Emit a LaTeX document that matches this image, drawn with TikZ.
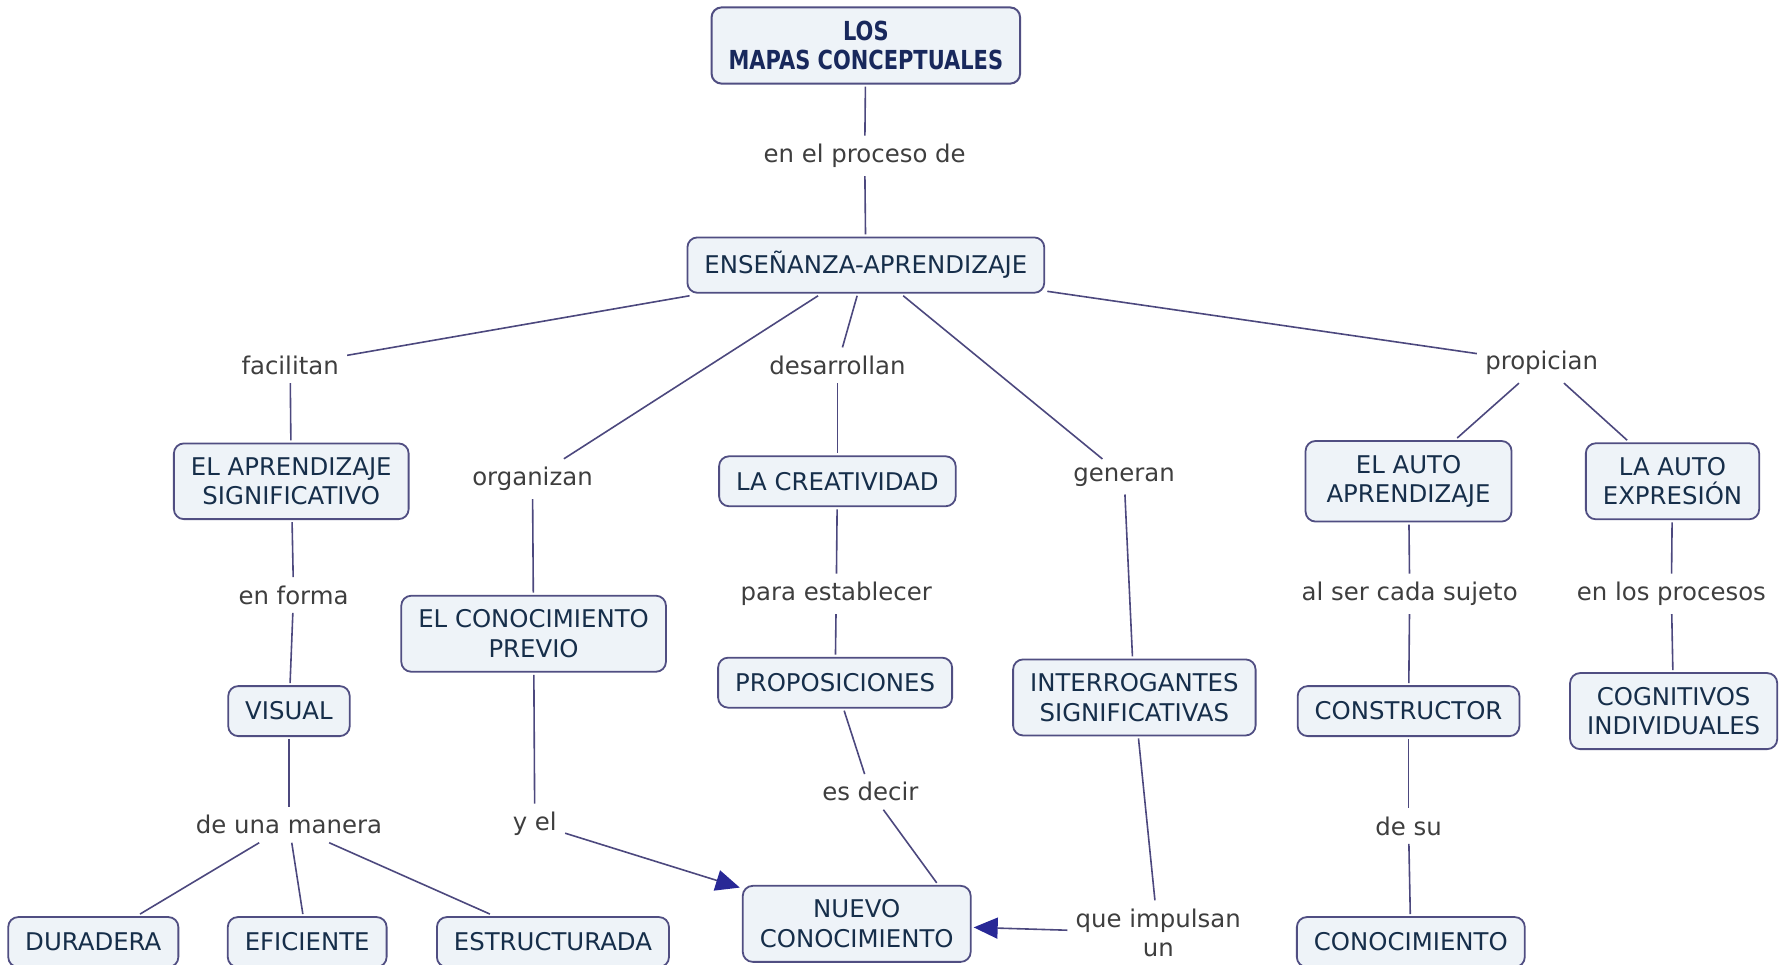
\documentclass[tikz,border=0pt]{standalone}
\usepackage{fontspec}
\setmainfont{DejaVu Sans}
\newfontfamily\titlefont[FakeStretch=0.8]{DejaVu Sans}
\usetikzlibrary{arrows.meta}
\definecolor{conceptborder}{RGB}{80,78,130}
\definecolor{conceptfill}{RGB}{238,243,248}
\definecolor{concepttext}{RGB}{22,46,74}
\definecolor{titletext}{RGB}{24,40,92}
\definecolor{linktext}{RGB}{62,62,62}
\definecolor{linkcolor}{RGB}{76,72,126}
\definecolor{tipcolor}{RGB}{40,40,150}

\begin{document}
\begin{tikzpicture}[x=0.569pt,y=-0.569pt,
    every node/.style={font=\fontsize{12.2}{14.8}\selectfont},
    concept/.style={draw=conceptborder,fill=conceptfill,rounded corners=5pt,
      line width=0.9pt,align=center,text=concepttext,
      inner xsep=8.5pt,inner ysep=7pt,minimum height=25pt,outer sep=1.5pt},
    linkword/.style={text=linktext,align=center,inner sep=4pt},
    link/.style={draw=linkcolor,line width=0.8pt},
    tip/.style={-{Triangle[length=12pt,width=10.5pt,color=tipcolor]}}]
  \useasboundingbox (0,0) rectangle (1568,848);
  \clip (0,0) rectangle (1568,848);

  % concepts
  \node[concept,line width=1pt,inner ysep=7pt,text=titletext,
    font=\titlefont\bfseries\fontsize{13.1}{14.2}\selectfont] (mapas) at (761,40) {LOS\\MAPAS CONCEPTUALES};
  \node[concept] (ensenanza) at (761,233) {ENSEÑANZA-APRENDIZAJE};
  \node[concept] (significativo) at (256,423) {EL APRENDIZAJE\\SIGNIFICATIVO};
  \node[concept] (creatividad) at (736,423) {LA CREATIVIDAD};
  \node[concept,minimum width=103pt] (autoaprendizaje) at (1238,423) {EL AUTO\\APRENDIZAJE};
  \node[concept] (autoexpresion) at (1470,423) {LA AUTO\\EXPRESIÓN};
  \node[concept] (previo) at (469,557) {EL CONOCIMIENTO\\PREVIO};
  \node[concept] (visual) at (254,625) {VISUAL};
  \node[concept] (proposiciones) at (734,600) {PROPOSICIONES};
  \node[concept] (interrogantes) at (997,613) {INTERROGANTES\\SIGNIFICATIVAS};
  \node[concept] (constructor) at (1238,625) {CONSTRUCTOR};
  \node[concept] (cognitivos) at (1471,625) {COGNITIVOS\\INDIVIDUALES};
  \node[concept] (duradera) at (82,828) {DURADERA};
  \node[concept] (eficiente) at (270,828) {EFICIENTE};
  \node[concept] (estructurada) at (486,828) {ESTRUCTURADA};
  \node[concept] (nuevo) at (753,812) {NUEVO\\CONOCIMIENTO};
  \node[concept] (conocimiento) at (1240,828) {CONOCIMIENTO};

  % linking words
  \node[linkword] (proceso) at (760,137) {en el proceso de};
  \node[linkword] (facilitan) at (255,321) {facilitan};
  \node[linkword] (desarrollan) at (736,321) {desarrollan};
  \node[linkword] (propician) at (1355,319) {propician};
  \node[linkword] (organizan) at (468,421) {organizan};
  \node[linkword] (generan) at (988,419) {generan};
  \node[linkword] (enforma) at (258,523) {en forma};
  \node[linkword] (establecer) at (735,522) {para establecer};
  \node[linkword] (sujeto) at (1239,522) {al ser cada sujeto};
  \node[linkword] (procesos) at (1469,522) {en los procesos};
  \node[linkword] (esdecir) at (765,696) {es decir};
  \node[linkword] (manera) at (254,725) {de una manera};
  \node[linkword] (yel) at (470,724) {y el};
  \node[linkword] (desu) at (1238,726) {de su};
  \node[linkword] (impulsan) at (1018,820) {que impulsan\\un};

  % links
  \draw[link] (mapas) -- (proceso);
  \draw[link] (proceso) -- (ensenanza);
  \draw[link] (ensenanza) -- (facilitan);
  \draw[link] (ensenanza) -- (organizan);
  \draw[link] (ensenanza) -- (desarrollan);
  \draw[link] (ensenanza) -- (generan);
  \draw[link] (ensenanza) -- (propician);
  \draw[link] (facilitan) -- (significativo);
  \draw[link] (organizan) -- (previo);
  \draw[link] (desarrollan) -- (creatividad);
  \draw[link] (generan) -- (interrogantes);
  \draw[link] (propician) -- (autoaprendizaje);
  \draw[link] (propician) -- (autoexpresion);
  \draw[link] (significativo) -- (enforma);
  \draw[link] (enforma) -- (visual);
  \draw[link] (creatividad) -- (establecer);
  \draw[link] (establecer) -- (proposiciones);
  \draw[link] (autoaprendizaje) -- (sujeto);
  \draw[link] (sujeto) -- (constructor);
  \draw[link] (autoexpresion) -- (procesos);
  \draw[link] (procesos) -- (cognitivos);
  \draw[link] (visual) -- (manera);
  \draw[link] (manera) -- (duradera);
  \draw[link] (manera) -- (eficiente);
  \draw[link] (manera) -- (estructurada);
  \draw[link] (previo) -- (yel);
  \draw[link,tip] (yel) -- (nuevo);
  \draw[link] (proposiciones) -- (esdecir);
  \draw[link] (esdecir) -- ([xshift=40pt]nuevo.north);
  \draw[link] (interrogantes) -- (impulsan);
  \draw[link,tip] (impulsan) -- (nuevo);
  \draw[link] (constructor) -- (desu);
  \draw[link] (desu) -- (conocimiento);
\end{tikzpicture}
\end{document}
